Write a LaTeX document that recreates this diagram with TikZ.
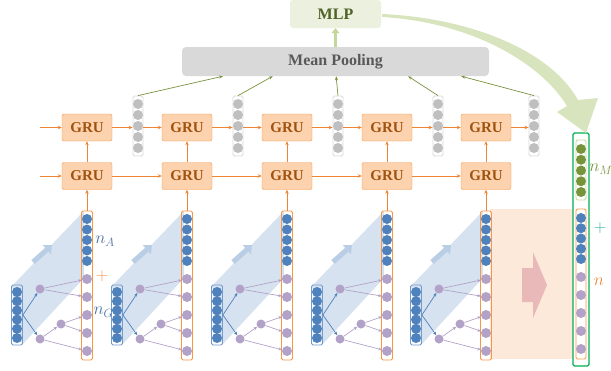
\documentclass[tikz,border=0pt]{standalone}
\usepackage{fontspec}
\setmainfont{Liberation Serif}
\usetikzlibrary{arrows.meta,positioning,calc}

\definecolor{orline}{HTML}{F79646}
\definecolor{orarr}{HTML}{EE8535}
\definecolor{grufill}{HTML}{FCD3AE}
\definecolor{grutext}{HTML}{A0520F}
\definecolor{dotblue}{HTML}{4F81BD}
\definecolor{dotpurple}{HTML}{B3A2C7}
\definecolor{dotgray}{HTML}{BFBFBF}
\definecolor{dotolive}{HTML}{77933C}
\definecolor{shadeblue}{HTML}{D6E2F0}
\definecolor{arrblue}{HTML}{B9CDE5}
\definecolor{peach}{HTML}{FDE9D9}
\definecolor{chev}{HTML}{E8B9B8}
\definecolor{poolfill}{HTML}{D9D9D9}
\definecolor{pooltext}{HTML}{595959}
\definecolor{mlpfill}{HTML}{EBF1DE}
\definecolor{mlptext}{HTML}{4F6228}
\definecolor{mlparr}{HTML}{C3D69B}
\definecolor{bigarr}{HTML}{D7E4BD}
\definecolor{greenbox}{HTML}{00B050}
\definecolor{labblue}{HTML}{4A6FA5}
\definecolor{labteal}{HTML}{2FB59C}

\tikzset{
    gru/.style={draw=orline, fill=grufill, rounded corners=2pt, minimum width=50pt,
        minimum height=27pt, inner sep=0pt, text=grutext,
        font=\fontsize{15}{15}\selectfont\bfseries},
    vbar/.style={rectangle, rounded corners=1.5pt, minimum width=11pt, inner sep=0pt, line width=0.8pt},
    hvec/.style={vbar, draw=poolfill, fill=white, minimum width=10pt, minimum height=60pt},
    bdot/.style={circle, fill=dotblue, minimum size=10pt, inner sep=0pt},
    pdot/.style={circle, fill=dotpurple, minimum size=10pt, inner sep=0pt},
    gdot/.style={circle, fill=dotgray, minimum size=10pt, inner sep=0pt},
    odot/.style={circle, fill=dotolive, minimum size=10pt, inner sep=0pt},
    tdot/.style={circle, fill=dotpurple, minimum size=9pt, inner sep=0pt},
    orarrow/.style={draw=orarr, line width=0.8pt, -{Stealth[length=4pt,width=3.5pt]}},
    treearrow/.style={line width=0.7pt, -{Stealth[length=3.5pt,width=3pt]}},
    poolline/.style={draw=dotolive, line width=0.7pt, -{Stealth[length=4pt,width=3pt]}},
    lab/.style={font=\fontsize{17}{17}\selectfont}
}

\begin{document}
\begin{tikzpicture}[x=1pt, y=-1pt]
    \useasboundingbox (0,0) rectangle (611,370);

    % last step is carried over to the output vector
    \fill[peach] (490,209) rectangle (573,359);
    \fill[chev] (522,268) -- (533,268) -- (533,252) -- (547,285)
        -- (533,318) -- (533,302) -- (522,302) -- cycle;

    \node[rounded corners=4pt, fill=poolfill, minimum width=307pt, minimum height=29pt,
        text=pooltext, font=\fontsize{16}{16}\selectfont\bfseries] (pool) at (335.5,61.5) {Mean Pooling};
    \node[rounded corners=3pt, fill=mlpfill, minimum width=91pt, minimum height=28pt,
        text=mlptext, font=\fontsize{16}{16}\selectfont\bfseries] (mlp) at (335.5,14) {MLP};
    \draw[draw=mlparr, line width=3.5pt, -{Triangle[length=5pt,width=8pt]}] (pool) -- (mlp);

    \foreach \i/\cx/\gx/\f in {1/87/138/0.134, 2/187/238/0.296, 3/287/338/0.502,
                                4/387/438/0.736, 5/486/534/0.909} {
        % graph to node vector
        \fill[shadeblue] (\cx-75,286) -- (\cx-3,211) -- (\cx-3,278) -- (\cx-65,345) -- cycle;
        \draw[arrblue, line width=5pt, -{Triangle[length=7pt,width=12pt]}] (\cx-54,262) -- (\cx-35,245);

        \node[vbar, draw=dotblue!80, minimum height=60pt] (g\i) at (\cx-70,315) {};
        \foreach \k in {0,...,5}
            \node[bdot] at (\cx-70,292+9.2*\k) {};

        \node[vbar, draw=orline, minimum height=149pt] (e\i) at (\cx,285.5) {};
        \foreach \k in {0,...,4}
            \node[bdot] at (\cx,219+10.5*\k) {};
        \foreach \k in {1,...,5}
            \node[pdot] (e\i-\k) at (\cx,261+18*\k) {};

        \node[tdot] (t\i-a) at (\cx-47,289) {};
        \node[tdot] (t\i-b) at (\cx-47,339) {};
        \node[tdot] (t\i-c) at (\cx-26,324) {};
        \draw[treearrow, dotblue] (g\i.east) -- (t\i-a);
        \draw[treearrow, dotblue] (g\i.east) -- (t\i-b);
        \draw[treearrow, dotpurple] (t\i-a) -- (e\i-1);
        \draw[treearrow, dotpurple] (t\i-a) -- (e\i-2);
        \draw[treearrow, dotpurple] (t\i-b) -- (t\i-c);
        \draw[treearrow, dotpurple] (t\i-b) -- (e\i-5);
        \draw[treearrow, dotpurple] (t\i-c) -- (e\i-3);
        \draw[treearrow, dotpurple] (t\i-c) -- (e\i-4);

        % two GRU layers
        \node[gru] (lo\i) at (\cx,176) {GRU};
        \node[gru] (up\i) at (\cx,127.5) {GRU};
        \draw[orarrow] (e\i) -- (lo\i);
        \draw[orarrow] (lo\i) -- (up\i);

        \node[hvec] (h\i) at (\gx,126) {};
        \foreach \k in {0,...,4}
            \node[gdot] at (\gx,104+11*\k) {};
        \draw[orarrow] (up\i.east) -- (up\i.east -| h\i.west);
        \draw[poolline] (h\i.north) -- ($(pool.south west)!\f!(pool.south east)$);
    }

    \foreach \i/\j in {1/2, 2/3, 3/4, 4/5} {
        \draw[orarrow] (h\i.east |- up\j.west) -- (up\j.west);
        \draw[orarrow] (lo\i) -- (lo\j);
    }

    \coordinate (inup) at (40,127.5);
    \coordinate (inlo) at (40,176);
    \draw[orarrow] (inup) -- (up1);
    \draw[orarrow] (inlo) -- (lo1);

    % labels of the first step
    \node[lab, text=labblue] (nA) at (105,241) {$n_A$};
    \node[lab, text=orline] (plus1) at (102,276) {$+$};
    \node[lab, text=labblue] (nG) at (103.5,312) {$n_G$};

    % output vector
    \node[vbar, draw=greenbox, line width=1.2pt, minimum width=16pt, minimum height=233pt] (out) at (581,249.5) {};
    \node[vbar, draw=mlparr, minimum width=10pt, minimum height=60pt] (outm) at (581,170) {};
    \foreach \k in {0,...,4}
        \node[odot] at (581,149+10.75*\k) {};
    \node[vbar, draw=orline, minimum width=10pt, minimum height=150pt] (outn) at (581,284) {};
    \foreach \k in {0,...,4}
        \node[bdot] at (581,218+10.25*\k) {};
    \foreach \k in {0,...,4}
        \node[pdot] at (581,277+18*\k) {};

    \node[lab, text=dotolive] (nM) at (601,169) {$n_M$};
    \node[lab, text=labteal] (plus2) at (600,228) {$+$};
    \node[lab, text=orarr] (nn) at (599,282) {$n$};

    % from MLP back to the output vector
    \fill[bigarr] (382,14) .. controls (470,18) and (550,50) .. (578,100)
        -- (598,98) -- (586,133) -- (557,112) -- (567,106)
        .. controls (540,62) and (470,22) .. (382,17) -- cycle;
\end{tikzpicture}
\end{document}
